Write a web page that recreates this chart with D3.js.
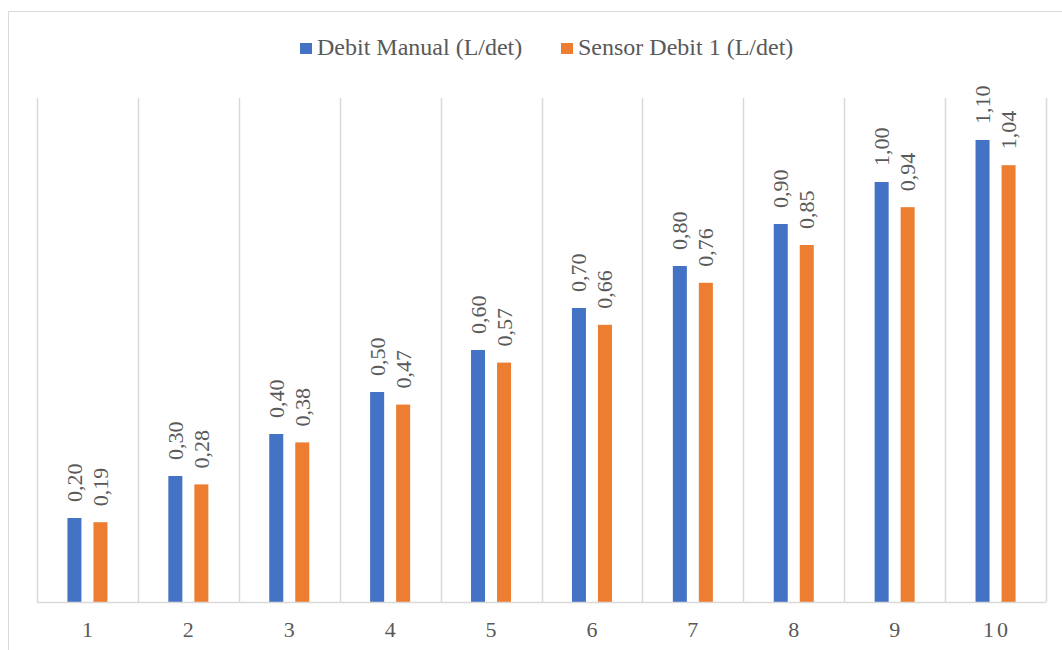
<!DOCTYPE html>
<html>
<head>
<meta charset="utf-8">
<script src="https://cdn.jsdelivr.net/npm/d3@7"></script>
<style>
  body { margin: 0; background: #fff; }
  svg { display: block; font-family: "Liberation Serif", "Times New Roman", serif; }
</style>
</head>
<body>
<svg id="chart" width="1062" height="650"></svg>
<script>
// categories and series values
var categories = ["1", "2", "3", "4", "5", "6", "7", "8", "9", "10"];
var seriesNames = ["Debit Manual (L/det)", "Sensor Debit 1 (L/det)"];
var debitManual = [0.20, 0.30, 0.40, 0.50, 0.60, 0.70, 0.80, 0.90, 1.00, 1.10];
var sensorDebit = [0.19, 0.28, 0.38, 0.47, 0.57, 0.66, 0.76, 0.85, 0.94, 1.04];
var seriesColors = ["#4472c4", "#ed7d31"];

var svg = d3.select("#chart");
var margin = { left: 37, right: 16, top: 98, bottom: 48 };
var width = 1062, height = 650;

// chart frame
svg.append("rect")
    .attr("x", 8.5).attr("y", 11.5)
    .attr("width", 1100).attr("height", 700)
    .attr("fill", "#fff")
    .attr("stroke", "#d9d9d9")
    .attr("stroke-width", 1);

var x0 = d3.scaleBand()
    .domain(categories)
    .range([margin.left, width - margin.right])
    .paddingInner(0).paddingOuter(0);

var x1 = d3.scaleBand()
    .domain([0, 1])
    .range([0, x0.bandwidth()])
    .paddingInner(12 / 26)
    .paddingOuter(1.17);

var y = d3.scaleLinear()
    .domain([0, 1.2])
    .range([height - margin.bottom, margin.top]);

// vertical grid lines at category boundaries
var bounds = categories.map(function (c) { return x0(c); });
bounds.push(x0.range()[1]);
svg.append("g").selectAll("line")
    .data(bounds)
    .join("line")
    .attr("x1", function (d) { return Math.round(d) + 0.5; })
    .attr("x2", function (d) { return Math.round(d) + 0.5; })
    .attr("y1", y(1.2))
    .attr("y2", y(0))
    .attr("stroke", "#d9d9d9")
    .attr("stroke-width", 1.5);

// bars
var series = [debitManual, sensorDebit];
var fmt = function (v) { return v.toFixed(2).replace(".", ","); };

series.forEach(function (vals, s) {
    var g = svg.append("g");
    g.selectAll("rect")
        .data(vals)
        .join("rect")
        .attr("x", function (d, i) { return x0(categories[i]) + x1(s); })
        .attr("y", function (d) { return y(d); })
        .attr("width", x1.bandwidth())
        .attr("height", function (d) { return y(0) - y(d); })
        .attr("fill", seriesColors[s]);

    // rotated value labels
    g.selectAll("text")
        .data(vals)
        .join("text")
        .attr("transform", function (d, i) {
            var cx = x0(categories[i]) + x1(s) + x1.bandwidth() / 2;
            return "translate(" + (cx + 7.5) + "," + (y(d) - 16) + ") rotate(-90)";
        })
        .attr("text-anchor", "start")
        .attr("font-size", "22px")
        .attr("fill", "#595959")
        .text(function (d) { return fmt(d); });
});

// x axis line
svg.append("line")
    .attr("x1", x0.range()[0]).attr("x2", x0.range()[1])
    .attr("y1", y(0) + 0.5).attr("y2", y(0) + 0.5)
    .attr("stroke", "#d9d9d9")
    .attr("stroke-width", 1.5);

// x tick labels
svg.append("g").selectAll("text")
    .data(categories)
    .join("text")
    .attr("x", function (d) { return x0(d) + x0.bandwidth() / 2 + (d.length > 1 ? 1.5 : 0); })
    .attr("y", 637)
    .attr("text-anchor", "middle")
    .attr("font-size", "22px")
    .attr("letter-spacing", function (d) { return d.length > 1 ? "3px" : null; })
    .attr("fill", "#595959")
    .text(function (d) { return d; });

// legend
var legendX = [300, 561];
var legend = svg.append("g");
seriesNames.forEach(function (name, s) {
    legend.append("rect")
        .attr("x", legendX[s]).attr("y", 43)
        .attr("width", 12).attr("height", 11)
        .attr("fill", seriesColors[s]);
    legend.append("text")
        .attr("x", legendX[s] + 17).attr("y", 55)
        .attr("font-size", "24px")
        .attr("fill", "#595959")
        .text(name);
});
</script>
</body>
</html>
